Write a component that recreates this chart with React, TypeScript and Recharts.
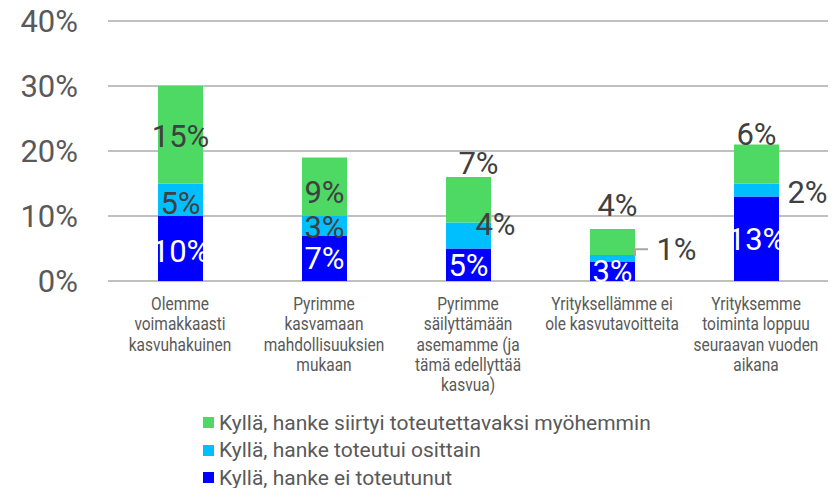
import React from 'react'
import { BarChart, Bar, XAxis, YAxis, CartesianGrid, Legend, LabelList } from 'recharts'

// Categories (line breaks as in the original axis labels)
const categories = [
  'Olemme\nvoimakkaasti\nkasvuhakuinen',
  'Pyrimme\nkasvamaan\nmahdollisuuksien\nmukaan',
  'Pyrimme\nsäilyttämään\nasemamme (ja\ntämä edellyttää\nkasvua)',
  'Yrityksellämme ei\nole kasvutavoitteita',
  'Yrityksemme\ntoiminta loppuu\nseuraavan vuoden\naikana',
]

// Series values (%)
const notRealized = [10, 7, 5, 3, 13]
const partlyRealized = [5, 3, 4, 1, 2]
const postponed = [15, 9, 7, 4, 6]

const seriesNames = {
  postponed: 'Kyllä, hanke siirtyi toteutettavaksi myöhemmin',
  partly: 'Kyllä, hanke toteutui osittain',
  not: 'Kyllä, hanke ei toteutunut',
}

const yTicks = [0, 10, 20, 30, 40]

const COLORS = {
  postponed: '#4dd964',
  partly: '#00bfff',
  not: '#0000ff',
}

const FONT = 'Roboto, sans-serif'
const TEXT = '#595959'
const LABEL_SIZE = 31

const data = categories.map((name, i) => ({
  name,
  not: notRealized[i],
  partly: partlyRealized[i],
  postponed: postponed[i],
}))

// label placement: mode 'mid' = relative to segment centre, 'top' = relative to segment top
type Place = [string, number, number]
const placeNot: Place[] = [['mid', 0, 2], ['mid', 0, 0], ['mid', 0, 0], ['mid', 0, 0], ['mid', 0, 0]]
const placePartly: Place[] = [['mid', 0, 3], ['mid', 0, 1], ['mid', 27, -12], ['mid', 64, -9], ['mid', 51, 2]]
const placePostponed: Place[] = [['mid', 0, 1], ['mid', 0, 5], ['top', 10, -14], ['top', 5, -24], ['top', 0, -11]]

function makeLabel(place: Place[], fill: string, leaderIndex?: number) {
  return (props: any) => {
    const vb = props.viewBox || props
    const x = Number(props.x ?? vb.x)
    const y = Number(props.y ?? vb.y)
    const w = Number(props.width ?? vb.width)
    const h = Number(props.height ?? vb.height)
    const [mode, dx, dy] = place[props.index] || ['mid', 0, 0]
    const cx = x + w / 2 + dx
    const cy = (mode === 'top' ? y : y + h / 2) + dy
    return (
      <g>
        {leaderIndex === props.index && (
          <path
            d={`M${x + w},${y + h / 2 - 2} V${cy} H${x + w + 13}`}
            stroke="#a6a6a6"
            strokeWidth={2}
            fill="none"
          />
        )}
        <text
          x={cx}
          y={cy + LABEL_SIZE * 0.355}
          textAnchor="middle"
          fill={fill}
          fontSize={LABEL_SIZE}
          fontFamily={FONT}
        >
          {props.value}%
        </text>
      </g>
    )
  }
}

const CategoryTick = (p: any) => {
  const lines = String(p.payload.value).split('\n')
  return (
    <g transform={`translate(${p.x},${p.y})`}>
      <text transform="scale(0.86,1)" textAnchor="middle" fill={TEXT} fontSize={18} fontFamily={FONT}>
        {lines.map((l, i) => (
          <tspan key={i} x={0} y={29 + i * 20.3}>
            {l}
          </tspan>
        ))}
      </text>
    </g>
  )
}

const PercentTick = (p: any) => (
  <text x={78} y={p.y + 11} textAnchor="end" fill={TEXT} fontSize={31} fontFamily={FONT}>
    {p.payload.value}%
  </text>
)

const LegendBox = () => {
  const rows = [
    { key: 'postponed', name: seriesNames.postponed, color: COLORS.postponed },
    { key: 'partly', name: seriesNames.partly, color: COLORS.partly },
    { key: 'not', name: seriesNames.not, color: COLORS.not },
  ]
  return (
    <div style={{ fontFamily: FONT, fontSize: 21, color: TEXT }}>
      {rows.map(r => (
        <div key={r.key} style={{ display: 'flex', alignItems: 'center', height: 27.5, whiteSpace: 'nowrap' }}>
          <span style={{ width: 11, height: 11, background: r.color, display: 'inline-block', marginRight: 5 }} />
          <span>{r.name}</span>
        </div>
      ))}
    </div>
  )
}

export default function App() {
  return (
    <div style={{ position: 'absolute', left: 0, top: 0, width: 834, height: 488, background: '#fff', overflow: 'hidden' }}>
      <BarChart
        width={834}
        height={488}
        data={data}
        margin={{ top: 21, right: 6, left: 0, bottom: 87 }}
        barSize={45}
      >
        <CartesianGrid vertical={false} stroke="#c0c0c0" strokeWidth={2} />
        <XAxis
          dataKey="name"
          axisLine={false}
          tickLine={false}
          tickSize={0}
          tickMargin={0}
          height={120}
          interval={0}
          tick={<CategoryTick />}
        />
        <YAxis
          width={108}
          domain={[0, 40]}
          ticks={yTicks}
          axisLine={false}
          tickLine={false}
          tick={<PercentTick />}
        />
        <Legend
          layout="vertical"
          align="center"
          verticalAlign="middle"
          wrapperStyle={{ left: 203, top: 409, width: 620, height: 84 }}
          content={<LegendBox />}
        />
        <Bar dataKey="not" stackId="a" fill={COLORS.not} name={seriesNames.not} isAnimationActive={false}>
          <LabelList dataKey="not" content={makeLabel(placeNot, '#ffffff')} />
        </Bar>
        <Bar dataKey="partly" stackId="a" fill={COLORS.partly} name={seriesNames.partly} isAnimationActive={false}>
          <LabelList dataKey="partly" content={makeLabel(placePartly, '#404040', 3)} />
        </Bar>
        <Bar dataKey="postponed" stackId="a" fill={COLORS.postponed} name={seriesNames.postponed} isAnimationActive={false}>
          <LabelList dataKey="postponed" content={makeLabel(placePostponed, '#404040')} />
        </Bar>
      </BarChart>
    </div>
  )
}
